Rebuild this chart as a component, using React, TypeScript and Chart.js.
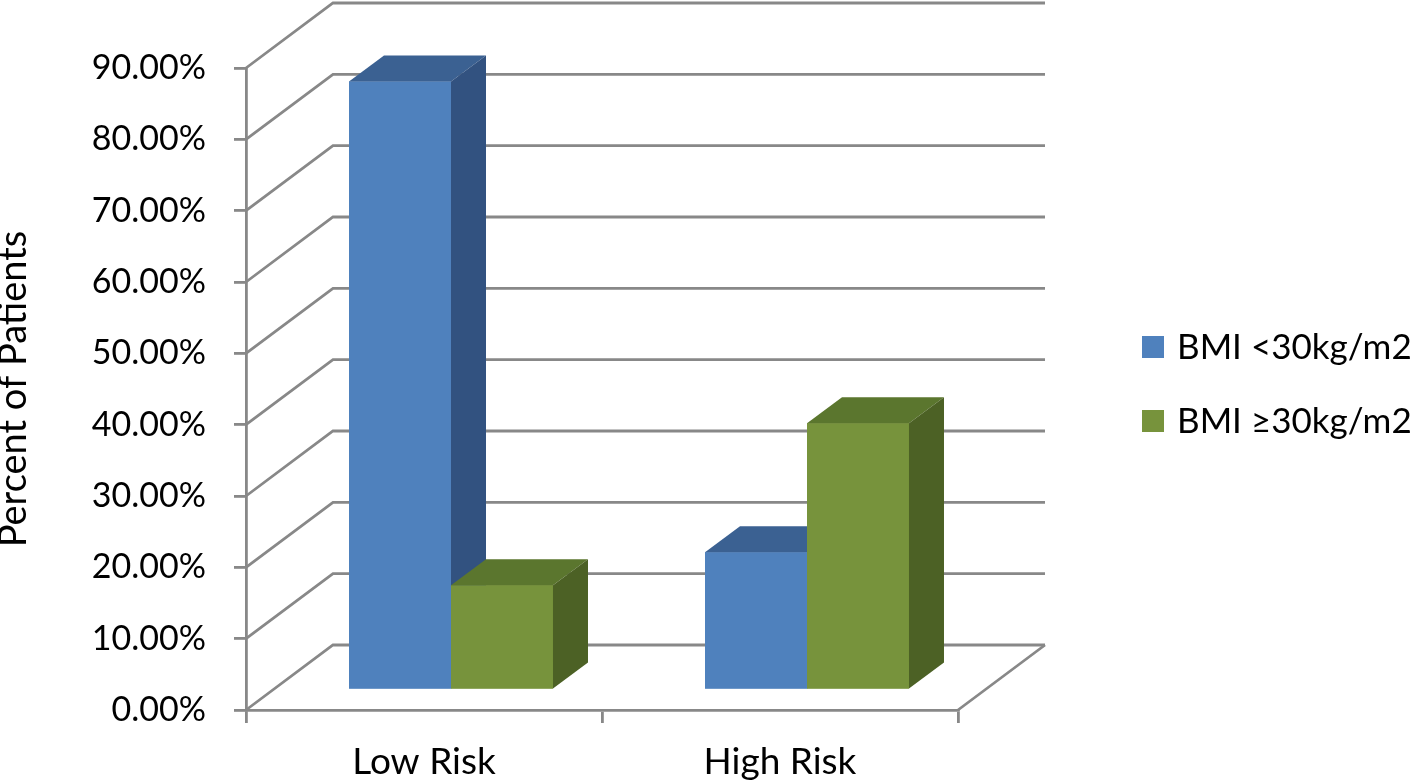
import React, { useEffect, useRef } from 'react';
import { Chart, registerables } from 'chart.js';

Chart.register(...registerables);

// ---- data ----
const categories = ['Low Risk', 'High Risk'];
const seriesLabels = ['BMI <30kg/m2', 'BMI ≥30kg/m2'];
const bmiUnder30 = [85.3, 19.3];
const bmiOver30 = [14.7, 37.4];
const yMin = 0;
const yMax = 90;
const yStep = 10;
const yTitle = 'Percent of Patients';

// ---- styles ----
const FONT = 'Lato';
const GRID = '#888888';
const FRONT = ['#4f81bd', '#77933c'];
const TOP = ['#3b6192', '#5b762e'];
const SIDE = ['#325280', '#4c6125'];
const DEPTH = { x: 87, y: -65 };
const BAR_SHIFT = { x: 27, y: -20 };
const BAR_DEPTH = { x: 35, y: -26 };

const threeD = {
  id: 'threeD',
  beforeDatasetsDraw(chart: any) {
    const { ctx, chartArea: a, scales } = chart;
    const y = scales.y;
    ctx.save();
    ctx.strokeStyle = GRID;
    ctx.lineWidth = 2.8;
    ctx.lineJoin = 'miter';
    y.ticks.forEach((t: any) => {
      const py = y.getPixelForValue(t.value);
      ctx.beginPath();
      ctx.moveTo(a.left, py);
      ctx.lineTo(a.left + DEPTH.x, py + DEPTH.y);
      ctx.lineTo(a.right + DEPTH.x, py + DEPTH.y);
      ctx.stroke();
    });
    ctx.beginPath();
    ctx.moveTo(a.right, a.bottom);
    ctx.lineTo(a.right + DEPTH.x, a.bottom + DEPTH.y);
    ctx.stroke();
    ctx.restore();
    ctx.save();
    ctx.translate(BAR_SHIFT.x, BAR_SHIFT.y);
  },
  afterDatasetsDraw(chart: any) {
    const { ctx } = chart;
    const n = chart.data.labels.length;
    for (let i = 0; i < n; i++) {
      chart.data.datasets.forEach((ds: any, di: number) => {
        const meta = chart.getDatasetMeta(di);
        const el = meta.data[i];
        if (!el) return;
        const { x, y, base, width } = el.getProps(['x', 'y', 'base', 'width'], true);
        const l = x - width / 2;
        const r = x + width / 2;
        ctx.fillStyle = FRONT[di];
        ctx.fillRect(l, y, width, base - y);
        ctx.fillStyle = TOP[di];
        ctx.beginPath();
        ctx.moveTo(l, y);
        ctx.lineTo(l + BAR_DEPTH.x, y + BAR_DEPTH.y);
        ctx.lineTo(r + BAR_DEPTH.x, y + BAR_DEPTH.y);
        ctx.lineTo(r, y);
        ctx.closePath();
        ctx.fill();
        ctx.fillStyle = SIDE[di];
        ctx.beginPath();
        ctx.moveTo(r, y);
        ctx.lineTo(r + BAR_DEPTH.x, y + BAR_DEPTH.y);
        ctx.lineTo(r + BAR_DEPTH.x, base + BAR_DEPTH.y);
        ctx.lineTo(r, base);
        ctx.closePath();
        ctx.fill();
      });
    }
    ctx.restore();
  },
  afterDraw(chart: any) {
    const { ctx } = chart;
    ctx.save();
    ctx.font = `35px ${FONT}`;
    ctx.textBaseline = 'middle';
    ctx.textAlign = 'left';
    chart.data.datasets.forEach((ds: any, di: number) => {
      const cy = 347 + di * 74;
      ctx.fillStyle = FRONT[di];
      ctx.fillRect(1142, cy - 11, 22, 22);
      ctx.fillStyle = '#000';
      ctx.fillText(ds.label, 1177, cy + 1);
    });
    ctx.restore();
  },
};

export default function App() {
  const ref = useRef<HTMLCanvasElement>(null);
  useEffect(() => {
    if (!ref.current) return;
    const chart = new Chart(ref.current, {
      type: 'bar',
      data: {
        labels: categories,
        datasets: [
          { label: seriesLabels[0], data: bmiUnder30, backgroundColor: FRONT[0], borderWidth: 0 },
          { label: seriesLabels[1], data: bmiOver30, backgroundColor: FRONT[1], borderWidth: 0 },
        ],
      },
      options: {
        responsive: false,
        animation: false,
        layout: { padding: { top: 68, right: 460, bottom: 0, left: 0 } },
        datasets: { bar: { barPercentage: 1, categoryPercentage: 0.573 } },
        plugins: { legend: { display: false }, tooltip: { enabled: false } },
        scales: {
          x: {
            grid: { drawOnChartArea: false, tickLength: 13, color: GRID, lineWidth: 2.8, offset: true },
            border: { color: GRID, width: 2.8 },
            ticks: { padding: 17, color: '#000', font: { family: FONT, size: 37 } },
            afterFit: (s: any) => { s.height = 73; },
          },
          y: {
            min: yMin,
            max: yMax,
            ticks: {
              stepSize: yStep,
              padding: 28,
              color: '#000',
              font: { family: FONT, size: 34 },
              callback: (v: any) => Number(v).toFixed(2) + '%',
            },
            grid: { drawOnChartArea: false, tickLength: 12, color: GRID, lineWidth: 2.8 },
            border: { color: GRID, width: 2.8 },
            title: {
              display: true,
              text: yTitle,
              color: '#000',
              font: { family: FONT, size: 38 },
              padding: { top: -9, bottom: 0 },
            },
            afterFit: (s: any) => { s.width = 246; },
          },
        },
      },
      plugins: [threeD],
    });
    return () => chart.destroy();
  }, []);
  return (
    <div style={{ position: 'absolute', left: 0, top: 0, width: 1418, height: 783, background: '#fff' }}>
      <canvas ref={ref} width={1418} height={783} style={{ display: 'block' }} />
    </div>
  );
}
